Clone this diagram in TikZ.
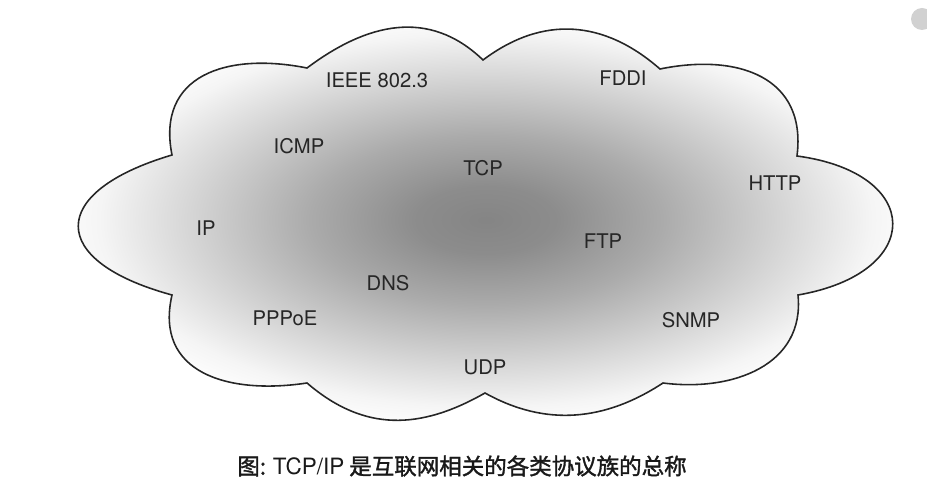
\documentclass[tikz,border=0pt]{standalone}
\usepackage{fontspec}
\usepackage{tikz}
\setmainfont{TeX Gyre Heros}
\newfontfamily\cjk{Noto Sans CJK SC}[FakeBold=1.5]
\pgfdeclareradialshading{cloudshade}{\pgfpoint{0bp}{0bp}}{color(0bp)=(black!48); color(4bp)=(black!45); color(10bp)=(black!33); color(17bp)=(black!16); color(22bp)=(black!4); color(25bp)=(white); color(50bp)=(white)}
\begin{document}
\begin{tikzpicture}[x=0.02cm,y=-0.02cm,proto/.style={text=black!85,font=\fontsize{11.5}{13}\selectfont,inner sep=0pt},caption/.style={text=black!90,font=\cjk\fontsize{12.8}{15}\selectfont,inner sep=0pt}]
\useasboundingbox (0,0) rectangle (927,496);
\draw[black!85,line width=0.9pt,shading=cloudshade] (172,295) .. controls (47,261) and (47,192) .. (172,155) .. controls (156,75) and (227,52) .. (307,68) .. controls (367,23) and (429,8) .. (483,60) .. controls (543,15) and (604,20) .. (660,69) .. controls (738,53) and (807,77) .. (797,156) .. controls (924,173) and (925,273) .. (798,295) .. controls (805,365) and (733,392) .. (663,383) .. controls (605,421) and (546,427) .. (485,393) .. controls (420,430) and (364,432) .. (307,383) .. controls (228,395) and (154,373) .. cycle;
\node[proto] (ieee) at (377,80) {IEEE 802.3};
\node[proto] (fddi) at (623,78) {FDDI};
\node[proto] (icmp) at (299,146) {ICMP};
\node[proto] (tcp) at (483,168) {TCP};
\node[proto] (http) at (775,183) {HTTP};
\node[proto] (ip) at (206,228) {IP};
\node[proto] (ftp) at (603,241) {FTP};
\node[proto] (dns) at (388,283) {DNS};
\node[proto] (pppoe) at (285,318) {PPPoE};
\node[proto] (snmp) at (691,320) {SNMP};
\node[proto] (udp) at (485,367) {UDP};
\node[caption] (cap) at (462,466) {图: {\fontspec{TeX Gyre Heros}TCP/IP} 是互联网相关的各类协议族的总称};
\fill[black!18] (922,19) circle (11);
\end{tikzpicture}
\end{document}
